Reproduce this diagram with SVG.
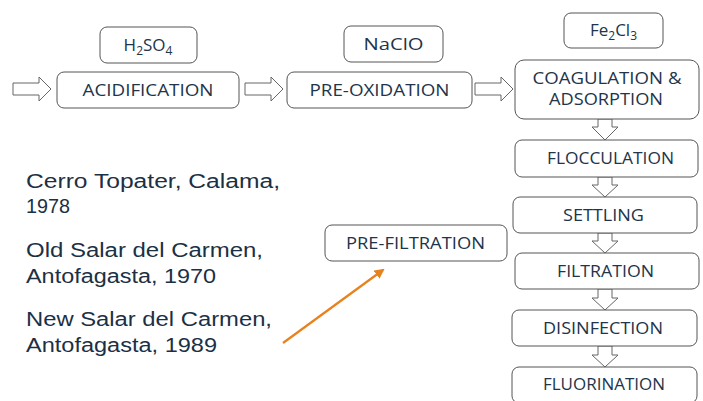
<svg xmlns="http://www.w3.org/2000/svg" width="703" height="401" viewBox="0 0 703 401">
<style>
.box{fill:#fff;stroke:#555;stroke-width:1}
.lbl{font-family:"Open Sans","Liberation Sans",sans-serif;font-size:17px;fill:#22344a;text-anchor:middle}
.side{font-family:"Liberation Sans","Open Sans",sans-serif;font-size:19.5px;fill:#1c3045}
.blk{fill:#fff;stroke:#666;stroke-width:1}
</style>
<defs>
<marker id="oh" markerWidth="10" markerHeight="10" refX="8" refY="5" orient="auto" markerUnits="userSpaceOnUse">
<path d="M0,0 L10,5 L0,10 Z" fill="#e8821e"/>
</marker>
</defs>
<rect width="703" height="401" fill="#fff"/>

<g id="connectors">
<path class="blk" d="M13,83 H39 V77 L51,89 L39,101 V95 H13 Z"/>
<path class="blk" d="M245,83 H271 V77 L283,89 L271,101 V95 H245 Z"/>
<path class="blk" d="M475,83 H501 V77 L513,89 L501,101 V95 H475 Z"/>
<path class="blk" d="M598,119 V127 H592 L605,140 L618,127 H612 V119 Z"/>
<path class="blk" d="M598,177 V185 H592 L605,197 L618,185 H612 V177 Z"/>
<path class="blk" d="M598,233 V241 H592 L605,253 L618,241 H612 V233 Z"/>
<path class="blk" d="M598,289 V298 H592 L605,310 L618,298 H612 V289 Z"/>
<path class="blk" d="M598,346 V355 H592 L605,367 L618,355 H612 V346 Z"/>
<line x1="283" y1="343" x2="383" y2="270" stroke="#e8821e" stroke-width="2.2" marker-end="url(#oh)"/>
</g>

<g id="h2so4">
<rect class="box" x="100" y="27" width="97" height="36" rx="7"/>
<text class="lbl" x="148" y="51">H<tspan font-size="12" dy="4">2</tspan><tspan dy="-4">SO</tspan><tspan font-size="12" dy="4">4</tspan></text>
</g>
<g id="acidification">
<rect class="box" x="57" y="72" width="182" height="36" rx="7"/>
<text class="lbl" x="148" y="96" textLength="131" lengthAdjust="spacingAndGlyphs">ACIDIFICATION</text>
</g>
<g id="naclo">
<rect class="box" x="344" y="26" width="99" height="36" rx="7"/>
<text class="lbl" x="393.5" y="50" textLength="60" lengthAdjust="spacingAndGlyphs">NaClO</text>
</g>
<g id="preoxidation">
<rect class="box" x="287" y="72" width="185" height="36" rx="7"/>
<text class="lbl" x="379.5" y="96" textLength="140" lengthAdjust="spacingAndGlyphs">PRE-OXIDATION</text>
</g>
<g id="fe2cl3">
<rect class="box" x="564" y="13" width="99" height="35" rx="7"/>
<text class="lbl" x="613.5" y="36">Fe<tspan font-size="12" dy="4">2</tspan><tspan dy="-4">Cl</tspan><tspan font-size="12" dy="4">3</tspan></text>
</g>
<g id="coagulation">
<rect class="box" x="515" y="60" width="184" height="59" rx="9"/>
<text class="lbl" x="607" y="84" textLength="149" lengthAdjust="spacingAndGlyphs">COAGULATION &amp;</text>
<text class="lbl" x="606" y="105" textLength="114" lengthAdjust="spacingAndGlyphs">ADSORPTION</text>
</g>
<g id="flocculation">
<rect class="box" x="515" y="140" width="183" height="37" rx="7"/>
<text class="lbl" x="610.5" y="164" textLength="127" lengthAdjust="spacingAndGlyphs">FLOCCULATION</text>
</g>
<g id="settling">
<rect class="box" x="513" y="197" width="184" height="36" rx="7"/>
<text class="lbl" x="603.5" y="221" textLength="81" lengthAdjust="spacingAndGlyphs">SETTLING</text>
</g>
<g id="filtration">
<rect class="box" x="515" y="253" width="184" height="36" rx="7"/>
<text class="lbl" x="605.5" y="277" textLength="97" lengthAdjust="spacingAndGlyphs">FILTRATION</text>
</g>
<g id="disinfection">
<rect class="box" x="512" y="310" width="185" height="36" rx="7"/>
<text class="lbl" x="603" y="334" textLength="120" lengthAdjust="spacingAndGlyphs">DISINFECTION</text>
</g>
<g id="fluorination">
<rect class="box" x="512" y="367" width="185" height="36" rx="7"/>
<text class="lbl" x="604" y="390" textLength="122" lengthAdjust="spacingAndGlyphs">FLUORINATION</text>
</g>
<g id="prefiltration">
<rect class="box" x="325" y="225" width="182" height="36" rx="7"/>
<text class="lbl" x="415.5" y="249" textLength="139" lengthAdjust="spacingAndGlyphs">PRE-FILTRATION</text>
</g>

<g id="sites">
<text class="side" x="26" y="188" textLength="254" lengthAdjust="spacingAndGlyphs">Cerro Topater, Calama,</text>
<text class="side" x="26" y="213" textLength="44" lengthAdjust="spacingAndGlyphs">1978</text>
<text class="side" x="26" y="257" textLength="237" lengthAdjust="spacingAndGlyphs">Old Salar del Carmen,</text>
<text class="side" x="26" y="283" textLength="190" lengthAdjust="spacingAndGlyphs">Antofagasta, 1970</text>
<text class="side" x="26" y="326" textLength="246" lengthAdjust="spacingAndGlyphs">New Salar del Carmen,</text>
<text class="side" x="26" y="352" textLength="191" lengthAdjust="spacingAndGlyphs">Antofagasta, 1989</text>
</g>
</svg>
